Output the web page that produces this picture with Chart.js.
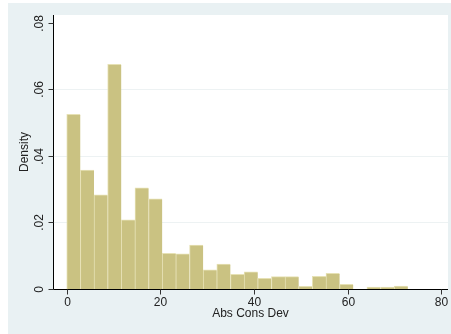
<!DOCTYPE html>
<html>
<head>
<meta charset="utf-8">
<script src="https://cdn.jsdelivr.net/npm/chart.js@4/dist/chart.umd.min.js"></script>
<style>
    html, body { margin: 0; padding: 0; background: #ffffff; }
    #hist-wrap { width: 451px; height: 334px; }
</style>
</head>
<body>
<div id="hist-wrap"><canvas id="hist-graph" width="451" height="334"></canvas></div>
<script>
// bin left edges (Abs Cons Dev) and density per bin
const binEdges = [0, 2.91, 5.83, 8.74, 11.65, 14.57, 17.48, 20.39, 23.30, 26.22,
    29.13, 32.04, 34.96, 37.87, 40.78, 43.70, 46.61, 49.52, 52.43, 55.35,
    58.26, 61.17, 64.09, 67.00, 69.91];
const binWidth = 2.913;
const densities = [0.0525, 0.0358, 0.0283, 0.0676, 0.0208, 0.0304, 0.0271, 0.0107, 0.0106, 0.0132,
    0.0058, 0.0075, 0.0044, 0.0052, 0.0032, 0.0037, 0.0037, 0.0008, 0.0038, 0.0047,
    0.0014, 0, 0.0006, 0.0006, 0.0009];
const xTicks = [0, 20, 40, 60, 80];
const yTicks = [0, 0.02, 0.04, 0.06, 0.08];
const yTickLabels = ['0', '.02', '.04', '.06', '.08'];
const xTitle = 'Abs Cons Dev';
const yTitle = 'Density';

const textColor = '#222222';
const font = '12px "Liberation Sans", Arial, sans-serif';

// stata-ish background: white margin, bluish graph region, white plot region
const backgroundPlugin = {
    id: 'stataBackground',
    beforeDraw(chart) {
        const ctx = chart.ctx;
        const area = chart.chartArea;
        ctx.save();
        ctx.fillStyle = '#ffffff';
        ctx.fillRect(0, 0, chart.width, chart.height);
        ctx.fillStyle = '#e9f1f3';
        ctx.fillRect(8, 3, chart.width - 8, chart.height - 3);
        ctx.fillStyle = '#ffffff';
        ctx.fillRect(area.left, area.top, area.right - area.left, area.bottom - area.top);

        // grid lines
        const y = chart.scales.y;
        ctx.strokeStyle = '#edf2f3';
        ctx.lineWidth = 1;
        yTicks.forEach(v => {
            if (v === 0 || v === 0.08) return;
            const py = Math.round(y.getPixelForValue(v)) + 0.5;
            ctx.beginPath();
            ctx.moveTo(area.left, py);
            ctx.lineTo(area.right, py);
            ctx.stroke();
        });
        ctx.restore();
    }
};

// axes, ticks and labels drawn from the scales
const axesPlugin = {
    id: 'stataAxes',
    afterDatasetsDraw(chart) {
        const ctx = chart.ctx;
        const area = chart.chartArea;
        const x = chart.scales.x;
        const y = chart.scales.y;
        const x0 = Math.round(area.left) + 0.5;
        const y0 = Math.round(y.getPixelForValue(0)) + 0.5;

        ctx.save();
        ctx.strokeStyle = '#000000';
        ctx.lineWidth = 1;
        ctx.beginPath();
        ctx.moveTo(x0, area.top);
        ctx.lineTo(x0, y0);
        ctx.lineTo(area.right, y0);
        ctx.stroke();

        ctx.strokeStyle = '#333333';
        ctx.fillStyle = textColor;
        ctx.font = font;

        // y ticks, labels rotated
        yTicks.forEach((v, i) => {
            const py = Math.round(y.getPixelForValue(v)) + 0.5;
            ctx.beginPath();
            ctx.moveTo(x0 - 5, py);
            ctx.lineTo(x0, py);
            ctx.stroke();
            ctx.save();
            ctx.translate(40, py);
            ctx.rotate(-Math.PI / 2);
            ctx.textAlign = 'center';
            ctx.textBaseline = 'middle';
            ctx.fillText(yTickLabels[i], 0, 0);
            ctx.restore();
        });

        // x ticks
        xTicks.forEach(v => {
            const px = Math.round(x.getPixelForValue(v)) + 0.5;
            ctx.beginPath();
            ctx.moveTo(px, y0);
            ctx.lineTo(px, y0 + 5);
            ctx.stroke();
            ctx.textAlign = 'center';
            ctx.textBaseline = 'middle';
            ctx.fillText(String(v), px, 303);
        });

        // titles
        ctx.textAlign = 'center';
        ctx.textBaseline = 'middle';
        ctx.fillText(xTitle, (area.left + area.right) / 2, 314);
        ctx.save();
        ctx.translate(25, (area.top + area.bottom) / 2);
        ctx.rotate(-Math.PI / 2);
        ctx.fillText(yTitle, 0, 0);
        ctx.restore();
        ctx.restore();
    }
};

function createHistogram() {
    const ctx = document.getElementById('hist-graph').getContext('2d');
    const points = binEdges.map((edge, i) => ({ x: edge + binWidth / 2, y: densities[i] }));

    new Chart(ctx, {
        type: 'bar',
        data: {
            datasets: [{
                data: points,
                backgroundColor: '#cac282',
                borderColor: '#e6e1b4',
                borderWidth: { top: 1, left: 1, right: 0, bottom: 0 },
                borderSkipped: false,
                barPercentage: 1,
                categoryPercentage: 1
            }]
        },
        options: {
            responsive: false,
            animation: false,
            layout: { padding: { left: 53, top: 15, right: 3, bottom: 45 } },
            plugins: {
                legend: { display: false },
                tooltip: { enabled: false }
            },
            scales: {
                x: {
                    type: 'linear',
                    offset: false,
                    min: -2.93,
                    max: 81.4,
                    grid: { display: false, drawTicks: false },
                    border: { display: false },
                    ticks: { display: false }
                },
                y: {
                    min: 0,
                    max: 0.0824,
                    grid: { display: false, drawTicks: false },
                    border: { display: false },
                    ticks: { display: false }
                }
            }
        },
        plugins: [backgroundPlugin, axesPlugin]
    });
}

document.addEventListener('DOMContentLoaded', createHistogram);
</script>
</body>
</html>
